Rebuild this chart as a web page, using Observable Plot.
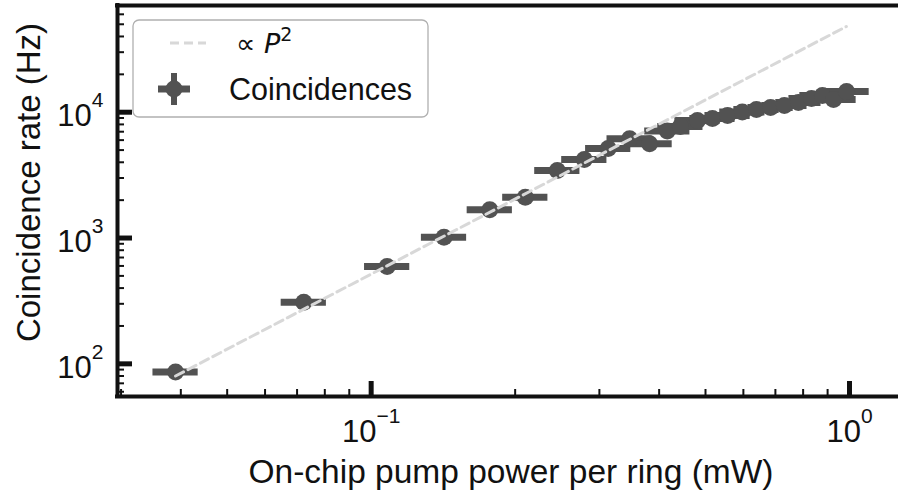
<!DOCTYPE html>
<html>
<head>
<meta charset="utf-8">
<script src="https://cdn.jsdelivr.net/npm/d3@7"></script>
<script src="https://cdn.jsdelivr.net/npm/@observablehq/plot@0.6"></script>
<style>
  html, body { margin: 0; padding: 0; background: #ffffff; }
  #chart svg { display: block; }
</style>
</head>
<body>
<div id="chart"></div>
<script>
// ---- Data ----
const powerMW = [0.0390, 0.0723, 0.108, 0.142, 0.177, 0.210, 0.245, 0.279, 0.313, 0.347,
                 0.382, 0.416, 0.443, 0.481, 0.517, 0.556, 0.597, 0.639, 0.684, 0.731,
                 0.782, 0.833, 0.878, 0.926, 0.986];
const rateHz  = [86, 309, 593, 1015, 1675, 2110, 3440, 4207, 5146, 6145,
                 5610, 7090, 7697, 8590, 8910, 9414, 10040, 10500, 10900, 11300,
                 11940, 12850, 13580, 12620, 14600];
const powerRelErr = 0.115;            // horizontal error bar (relative)
const fitPower = [0.039, 0.985];      // "∝ P²" guide line end points
const fitRate  = [80, 48000];

const xMajorTicks = [0.1, 1];
const xMajorLabels = ["10^−1", "10^0"];
const xMinorTicks = [0.03, 0.04, 0.05, 0.06, 0.07, 0.08, 0.09, 0.2, 0.3, 0.4, 0.5, 0.6, 0.7, 0.8, 0.9];
const yMajorTicks = [100, 1000, 10000];
const yMajorLabels = ["10^2", "10^3", "10^4"];
const yMinorTicks = [60, 70, 80, 90, 200, 300, 400, 500, 600, 700, 800, 900,
                     2000, 3000, 4000, 5000, 6000, 7000, 8000, 9000,
                     20000, 30000, 40000, 50000, 60000, 70000];

const xLabel = "On-chip pump power per ring (mW)";
const yLabel = "Coincidence rate (Hz)";
const legendFit = "∝ ";
const legendData = "Coincidences";

// ---- Layout ----
const W = 898, H = 493;
const mL = 117, mR = 0, mT = 5, mB = 97;
const innerW = W - mL - mR, innerH = H - mT - mB;
const xDomain = [0.02949, 1.2661];
const yDomain = [55, 70500];
const ink = "#111111";
const ptColor = "#525252";
const fitColor = "#d8d8d8";
const fontFamily = "'Liberation Sans', Arial, Helvetica, sans-serif";

const data = powerMW.map((p, i) => ({p, rate: rateHz[i]}));
const fit = fitPower.map((p, i) => ({p, rate: fitRate[i]}));

const xFmt = new Map(xMajorTicks.map((t, i) => [t, xMajorLabels[i]]));
const yFmt = new Map(yMajorTicks.map((t, i) => [t, yMajorLabels[i]]));

const chart = Plot.plot({
  width: W, height: H,
  marginLeft: mL, marginRight: mR, marginTop: mT, marginBottom: mB,
  x: {type: "log", domain: xDomain},
  y: {type: "log", domain: yDomain},
  style: {fontFamily, background: "#ffffff", color: ink},
  marks: [
    // horizontal error bars
    Plot.ruleY(data, {y: "rate", x1: d => d.p / (1 + powerRelErr), x2: d => d.p * (1 + powerRelErr),
                      stroke: ptColor, strokeWidth: 7}),
    // points
    Plot.dot(data, {x: "p", y: "rate", r: 8.5, fill: ptColor, stroke: "none"}),
    // P^2 guide
    Plot.line(fit, {x: "p", y: "rate", stroke: fitColor, strokeWidth: 3, strokeDasharray: "9,5"}),
    // inward ticks
    Plot.ruleX(xMajorTicks, {x: d => d, insetTop: innerH - 15, stroke: ink, strokeWidth: 5}),
    Plot.ruleX(xMinorTicks, {x: d => d, insetTop: innerH - 7, stroke: ink, strokeWidth: 2}),
    Plot.ruleY(yMajorTicks, {y: d => d, insetRight: innerW - 15, stroke: ink, strokeWidth: 5}),
    Plot.ruleY(yMinorTicks, {y: d => d, insetRight: innerW - 7, stroke: ink, strokeWidth: 2}),
    // spines
    Plot.ruleX([xDomain[0]], {stroke: ink, strokeWidth: 4, strokeLinecap: "square"}),
    Plot.ruleY([yDomain[0]], {stroke: ink, strokeWidth: 4, strokeLinecap: "square"}),
    Plot.ruleY([yDomain[1]], {stroke: ink, strokeWidth: 4, strokeLinecap: "square"}),
    // tick labels
    Plot.axisX({ticks: xMajorTicks, tickSize: 0, tickPadding: 23, fontSize: 31, label: null,
                tickFormat: d => xFmt.get(d)}),
    Plot.axisY({ticks: yMajorTicks, tickSize: 0, tickPadding: 14, dy: 4, fontSize: 31, label: null,
                tickFormat: d => yFmt.get(d)})
  ]
});

document.getElementById("chart").append(chart);

const svg = d3.select(chart);

// superscript exponents in tick labels
svg.selectAll('g[aria-label="x-axis tick label"] text, g[aria-label="y-axis tick label"] text').each(function () {
  const parts = (this.textContent || "").split("^");
  if (parts.length < 2) return;
  const t = d3.select(this);
  t.text("");
  t.append("tspan").text(parts[0]);
  t.append("tspan").attr("dy", -19).attr("font-size", 21).text(parts[1]);
});

// axis titles
svg.append("text")
  .attr("x", 511).attr("y", 483)
  .attr("text-anchor", "middle")
  .attr("font-size", 33.5).attr("fill", ink).attr("font-family", fontFamily)
  .text(xLabel);
svg.append("text")
  .attr("transform", "translate(40,182.5) rotate(-90)")
  .attr("text-anchor", "middle")
  .attr("font-size", 33).attr("fill", ink).attr("font-family", fontFamily)
  .text(yLabel);

// legend
const lg = svg.append("g").attr("font-family", fontFamily).attr("fill", ink).attr("text-anchor", "start");
lg.append("rect").attr("x", 133).attr("y", 20).attr("width", 295).attr("height", 97).attr("rx", 6)
  .attr("fill", "#ffffff").attr("fill-opacity", 0.85).attr("stroke", "#b0b0b0").attr("stroke-width", 1.3);
lg.append("line").attr("x1", 170).attr("x2", 206).attr("y1", 43).attr("y2", 43)
  .attr("stroke", fitColor).attr("stroke-width", 3).attr("stroke-dasharray", "9,5");
const fitText = lg.append("text").attr("x", 236).attr("y", 53).attr("font-size", 27)
  .attr("text-anchor", "start").attr("font-family", "'DejaVu Sans', sans-serif");
fitText.append("tspan").text(legendFit);
fitText.append("tspan").attr("font-style", "italic").text("P");
fitText.append("tspan").attr("dy", -12).attr("font-size", 19).text("2");
lg.append("line").attr("x1", 158).attr("x2", 190).attr("y1", 89).attr("y2", 89)
  .attr("stroke", ptColor).attr("stroke-width", 7);
lg.append("line").attr("x1", 174).attr("x2", 174).attr("y1", 73).attr("y2", 105)
  .attr("stroke", ptColor).attr("stroke-width", 6);
lg.append("circle").attr("cx", 174).attr("cy", 89).attr("r", 8.5).attr("fill", ptColor);
lg.append("text").attr("x", 229).attr("y", 100).attr("font-size", 30.5)
  .attr("text-anchor", "start").text(legendData);
</script>
</body>
</html>
